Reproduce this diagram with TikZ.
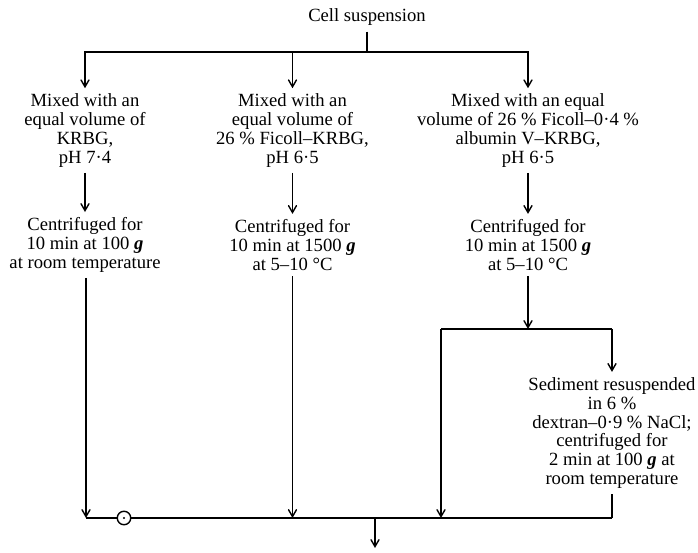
\documentclass[tikz,border=0pt]{standalone}
\usepackage{fontspec}
\setmainfont{Liberation Serif}
\usepackage{tikz}
\usetikzlibrary{shapes.geometric, arrows, positioning, calc}
\tikzstyle{stage} = [rectangle, text centered, align=center, inner sep=3pt]
\tikzstyle{arrow} = [thick,->,>=angle 60]
\tikzstyle{rule} = [thick]
\newcommand{\gforce}{\textbf{\textit{g}}}

\begin{document}
\begin{tikzpicture}[node distance=2.29cm, font=\fontsize{10.6}{10.7}\selectfont]
		\useasboundingbox (0,0) rectangle (13.96,-11.06);

		\node (cell) at (7.34,-0.34) {Cell suspension};
		\coordinate (split) at (7.34,-1.04);

		\node (mix1) [stage] at (1.70,-2.61) {Mixed with an \\ equal volume of \\ KRBG, \\ pH 7·4};
		\node (mix2) [stage] at (5.85,-2.61) {Mixed with an \\ equal volume of \\ 26~\% Ficoll--KRBG, \\ pH 6·5};
		\node (mix3) [stage] at (10.56,-2.61) {Mixed with an equal \\ volume of 26~\% Ficoll--0·4~\% \\ albumin V--KRBG, \\ pH 6·5};

		\node (cent1) [stage, below of=mix1] {Centrifuged for \\ 10 min at 100 \gforce \\ at room temperature};
		\node (cent2) [stage, below of=mix2] {Centrifuged for \\ 10 min at 1500 \gforce \\ at 5--10 °C};
		\node (cent3) [stage, below of=mix3] {Centrifuged for \\ 10 min at 1500 \gforce \\ at 5--10 °C};

		\node (fork) [coordinate, below of=cent3, node distance=1.68cm] {};
		\coordinate (forkl) at (8.82,-6.58);
		\coordinate (forkr) at (12.24,-6.58);
		\node (sed) [stage, below of=forkr, node distance=2.08cm] {Sediment resuspended \\ in 6~\% \\ dextran--0·9~\% NaCl; \\ centrifuged for \\ 2 min at 100 \gforce{} at \\ room temperature};

		\coordinate (mergel) at (1.72,-10.36);
		\coordinate (merger) at (12.24,-10.36);
		\coordinate (out) at (7.50,-10.36);
		\coordinate (end) at (7.50,-10.96);

		\draw [rule] (cell) -- (split);
		\draw [arrow] (split) -| (mix1);
		\draw [arrow] (split) -| (mix2);
		\draw [arrow] (split) -| (mix3);
		\draw [arrow] (mix1) -- (cent1);
		\draw [arrow] (mix2) -- (cent2);
		\draw [arrow] (mix3) -- (cent3);
		\draw [arrow] (cent1.south -| mergel) -- (mergel);
		\draw [arrow] (cent2) -- (cent2 |- mergel);
		\draw [arrow] (cent3) -- (fork);
		\draw [rule] (forkl) -- (forkr);
		\draw [arrow] (forkl) -- (forkl |- mergel);
		\draw [arrow] (forkr) -- (sed);
		\draw [rule] (sed) -- (merger);
		\draw [rule] (mergel) -- (merger);
		\draw [arrow] (out) -- (end);
		\node (mark) [circle, draw, thick, fill=white, minimum size=0.27cm, inner sep=0pt] at (2.48,-10.36) {};
		\fill (mark) circle (0.7pt);
\end{tikzpicture}
\end{document}
